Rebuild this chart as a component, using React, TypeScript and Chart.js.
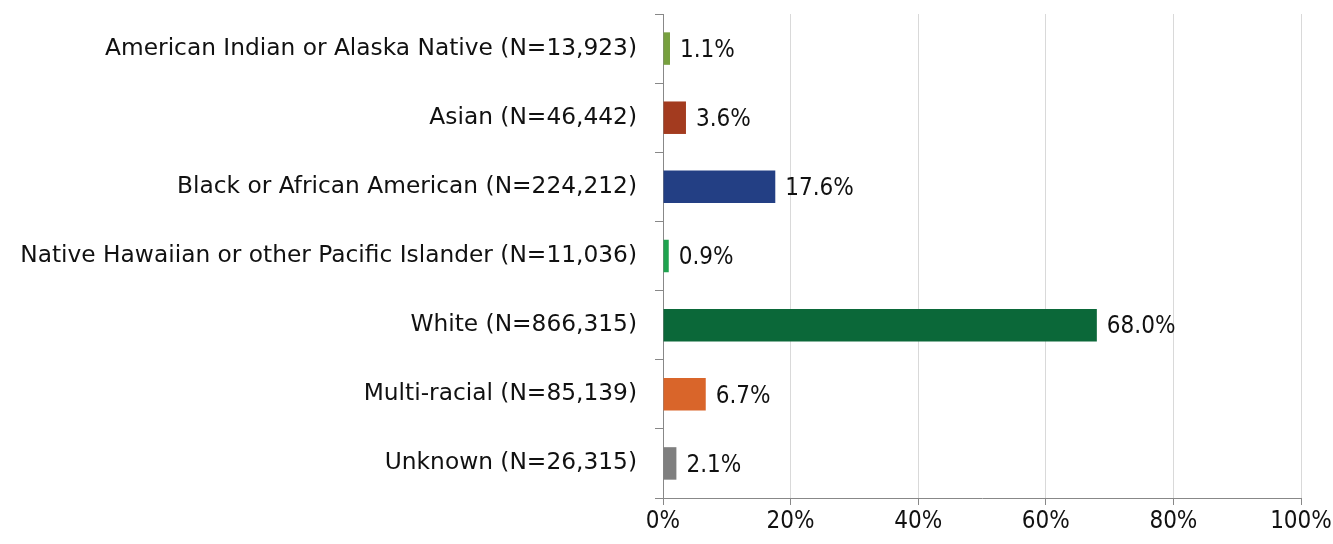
import React, { useEffect, useRef } from "react";
import { Chart, registerables } from "chart.js";

Chart.register(...registerables);

const categories = [
  "American Indian or Alaska Native (N=13,923)",
  "Asian (N=46,442)",
  "Black or African American (N=224,212)",
  "Native Hawaiian or other Pacific Islander (N=11,036)",
  "White (N=866,315)",
  "Multi-racial (N=85,139)",
  "Unknown (N=26,315)",
];
const percentages = [1.1, 3.6, 17.6, 0.9, 68.0, 6.7, 2.1];
const barColors = ["#77A03F", "#A33B1F", "#233F84", "#1EA34E", "#0B6839", "#D9652A", "#7F7F7F"];
const xTicks = [0, 20, 40, 60, 80, 100];

const LABEL_FONT = "'DejaVu Sans', sans-serif";
const NUM_FONT = "'DejaVu Sans Condensed', 'DejaVu Sans', sans-serif";

const valueLabels = {
  id: "valueLabels",
  afterDatasetsDraw(chart: any) {
    const ctx = chart.ctx;
    const meta = chart.getDatasetMeta(0);
    ctx.save();
    ctx.font = `24px ${NUM_FONT}`;
    ctx.fillStyle = "#111";
    ctx.textBaseline = "middle";
    ctx.textAlign = "left";
    meta.data.forEach((bar: any, i: number) => {
      ctx.fillText(percentages[i].toFixed(1) + "%", bar.x + 10, bar.y + 2);
    });
    ctx.restore();
  },
};

export default function App() {
  const ref = useRef<HTMLCanvasElement>(null);
  useEffect(() => {
    document.body.style.margin = "0";
    const chart = new Chart(ref.current!, {
      type: "bar",
      data: {
        labels: categories,
        datasets: [
          {
            data: percentages,
            backgroundColor: barColors,
            borderWidth: 0,
            barPercentage: 0.47,
            categoryPercentage: 1,
          },
        ],
      },
      options: {
        indexAxis: "y",
        animation: false,
        responsive: false,
        layout: { padding: { top: 14, right: 32, left: 0, bottom: 0 } },
        plugins: { legend: { display: false }, tooltip: { enabled: false } },
        scales: {
          x: {
            min: 0,
            max: 100,
            afterBuildTicks(scale: any) {
              scale.ticks = xTicks.map((v) => ({ value: v }));
            },
            afterFit(scale: any) {
              scale.height = 46;
              scale.paddingRight = 0;
              scale.paddingLeft = 0;
            },
            ticks: {
              callback: (v: any) => v + "%",
              color: "#111",
              font: { size: 24, family: NUM_FONT },
              padding: 2,
              maxRotation: 0,
            },
            grid: { color: "#d9d9d9", tickColor: "#888", tickLength: 7, lineWidth: 1 },
            border: { color: "#888", width: 1 },
          },
          y: {
            afterFit(scale: any) {
              scale.width = 663;
              scale.paddingTop = 0;
              scale.paddingBottom = 0;
            },
            ticks: {
              color: "#111",
              font: { size: 23.3, family: LABEL_FONT },
              padding: 18,
            },
            grid: { offset: true, drawOnChartArea: false, tickColor: "#888", tickLength: 8 },
            border: { color: "#888", width: 1 },
          },
        },
      },
      plugins: [valueLabels],
    });
    return () => chart.destroy();
  }, []);
  return <canvas ref={ref} width={1333} height={544} style={{ display: "block" }} />;
}
